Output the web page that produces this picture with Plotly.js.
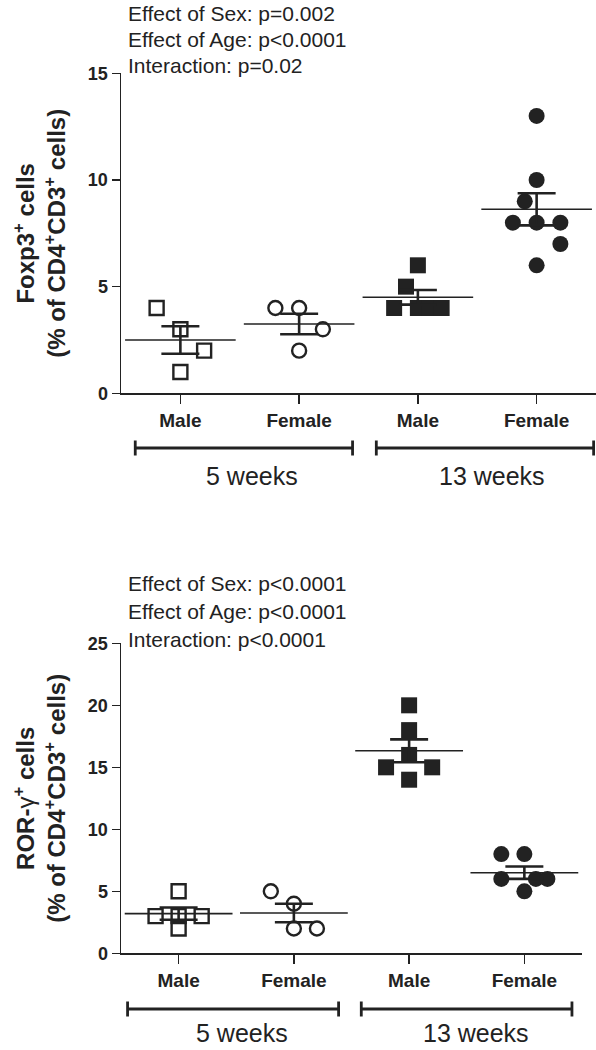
<!DOCTYPE html>
<html>
<head>
<meta charset="utf-8">
<script src="https://cdn.plot.ly/plotly-3.0.1.min.js"></script>
<style>html,body{margin:0;padding:0;background:#fff;}#chart{width:596px;height:1050px;}</style>
</head>
<body>
<div id="chart"></div>
<script>
// ---------- data ----------
const categories = ['Male', 'Female', 'Male', 'Female'];
const ageGroups = ['5 weeks', '13 weeks'];

// Foxp3+ cells (% of CD4+CD3+ cells)
const foxMale5 = [4, 3, 2, 1];
const foxFemale5 = [4, 4, 3, 2];
const foxMale13 = [6, 5, 4, 4, 4, 4];
const foxFemale13 = [13, 10, 9, 8, 8, 8, 7, 6];

// ROR-gamma+ cells (% of CD4+CD3+ cells)
const rorMale5 = [5, 3, 3, 3, 2];
const rorFemale5 = [5, 4, 2, 2];
const rorMale13 = [20, 18, 16, 15, 15, 14];
const rorFemale13 = [8, 8, 6, 6, 6, 5];

// horizontal scatter of the dots within each column (category units)
const foxJitter = [[-0.2, 0, 0.2, 0], [-0.2, 0, 0.2, 0], [0, -0.1, -0.2, 0, 0.1, 0.2], [0, 0, -0.1, -0.2, 0, 0.2, 0.2, 0]];
const rorJitter = [[0, -0.2, 0, 0.2, 0], [-0.2, 0, 0, 0.2], [0, 0, 0, -0.2, 0.2, 0], [-0.2, 0, -0.2, 0.1, 0.2, 0]];

const foxStats = ['Effect of Sex: p=0.002', 'Effect of Age: p<0.0001', 'Interaction: p=0.02'];
const rorStats = ['Effect of Sex: p<0.0001', 'Effect of Age: p<0.0001', 'Interaction: p<0.0001'];

// ---------- helpers ----------
const INK = '#222222';
const FONT = 'Liberation Sans, Arial, Helvetica, sans-serif';
const symbols = ['square-open', 'circle-open', 'square', 'circle'];

function mean(a) { return a.reduce((s, v) => s + v, 0) / a.length; }
function sem(a) {
  const m = mean(a);
  const sd = Math.sqrt(a.reduce((s, v) => s + (v - m) * (v - m), 0) / (a.length - 1));
  return sd / Math.sqrt(a.length);
}

function panelTraces(groups, jitter, xa, ya, meanWidth) {
  const traces = [];
  groups.forEach((vals, gi) => {
    const open = symbols[gi].indexOf('open') >= 0;
    traces.push({
      type: 'scatter', mode: 'markers', xaxis: xa, yaxis: ya,
      x: vals.map((v, i) => gi + 1 + jitter[gi][i]),
      y: vals,
      marker: {
        symbol: symbols[gi],
        size: open ? 14 : 16,
        color: INK,
        line: { width: open ? 2.4 : 0, color: INK }
      },
      cliponaxis: false, hoverinfo: 'y'
    });
  });
  traces.push({
    type: 'scatter', mode: 'markers', xaxis: xa, yaxis: ya,
    x: groups.map((g, gi) => gi + 1),
    y: groups.map(mean),
    marker: { symbol: 'line-ew', size: meanWidth, color: INK, line: { width: 1.6, color: INK } },
    error_y: { type: 'data', array: groups.map(sem), visible: true, width: 19, thickness: 2.6, color: INK },
    cliponaxis: false, hoverinfo: 'y'
  });
  return traces;
}

const data = [].concat(
  panelTraces([foxMale5, foxFemale5, foxMale13, foxFemale13], foxJitter, 'x', 'y', 79),
  panelTraces([rorMale5, rorFemale5, rorMale13, rorFemale13], rorJitter, 'x2', 'y2', 77)
);

function xAxis(domain, anchor) {
  return {
    domain: domain, anchor: anchor, range: [0.5, 4.5],
    tickvals: [1, 2, 3, 4], ticktext: categories,
    ticks: 'outside', ticklen: 9, tickwidth: 1.5, tickcolor: INK,
    showline: true, linewidth: 1.5, linecolor: INK,
    showgrid: false, zeroline: false, fixedrange: true,
    ticklabelstandoff: 0,
    tickfont: { family: FONT, size: 19, color: INK, weight: 'bold' }
  };
}
function yAxis(domain, anchor, range, dtick, title) {
  return {
    domain: domain, anchor: anchor, range: range, dtick: dtick, tick0: 0,
    ticks: 'outside', ticklen: 8, tickwidth: 1.5, tickcolor: INK,
    showline: true, linewidth: 1.5, linecolor: INK,
    showgrid: false, zeroline: false, fixedrange: true,
    tickfont: { family: FONT, size: 18, color: INK, weight: 'bold' },
    title: { text: title, standoff: 15, font: { family: FONT, size: 24, color: INK, weight: 'bold' } }
  };
}

const annotations = [];
const shapes = [];

function statLines(lines, yPx) {
  lines.forEach((t, i) => {
    annotations.push({
      xref: 'paper', yref: 'paper', x: (126 - 121) / 475, y: 1 - yPx[i] / 1050,
      xanchor: 'left', yanchor: 'middle', showarrow: false, text: t,
      font: { family: FONT, size: 21, color: INK }
    });
  });
}
statLines(foxStats, [13, 39, 66]);
statLines(rorStats, [583, 611, 639]);

function brackets(xref, spans, yPx, labelX, labelYPx) {
  spans.forEach((s, i) => {
    const y = 1 - yPx / 1050, dy = 7.5 / 1050;
    const line = { color: INK, width: 2.8 };
    shapes.push({ type: 'line', xref: xref, yref: 'paper', x0: s[0], x1: s[1], y0: y, y1: y, line: line });
    shapes.push({ type: 'line', xref: xref, yref: 'paper', x0: s[0], x1: s[0], y0: y - dy, y1: y + dy, line: line });
    shapes.push({ type: 'line', xref: xref, yref: 'paper', x0: s[1], x1: s[1], y0: y - dy, y1: y + dy, line: line });
    annotations.push({
      xref: xref, yref: 'paper', x: labelX[i], y: 1 - labelYPx / 1050,
      xanchor: 'center', yanchor: 'middle', showarrow: false, text: ageGroups[i],
      font: { family: FONT, size: 25, color: INK }
    });
  });
}
brackets('x', [[0.62, 2.45], [2.65, 4.48]], 448, [1.6, 3.62], 476);
brackets('x2', [[0.557, 2.388], [2.585, 4.413]], 1009, [1.55, 3.58], 1033);

const layout = {
  width: 596, height: 1050,
  margin: { l: 121, r: 0, t: 0, b: 0 },
  paper_bgcolor: '#ffffff', plot_bgcolor: '#ffffff',
  showlegend: false,
  font: { family: FONT, color: INK },
  xaxis: xAxis([0, 1], 'y'),
  yaxis: yAxis([0.6254, 0.9302], 'x', [0, 15], 5, 'Foxp3<sup>+</sup> cells<br>(% of CD4<sup>+</sup>CD3<sup>+</sup> cells)'),
  xaxis2: xAxis([0, 0.9705], 'y2'),
  yaxis2: yAxis([0.0921, 0.3873], 'x2', [0, 25], 5, 'ROR-<span style="font-weight:normal">γ</span><sup>+</sup> cells<br>(% of CD4<sup>+</sup>CD3<sup>+</sup> cells)'),
  annotations: annotations,
  shapes: shapes
};

Plotly.newPlot('chart', data, layout, { displayModeBar: false, staticPlot: true });
</script>
</body>
</html>
